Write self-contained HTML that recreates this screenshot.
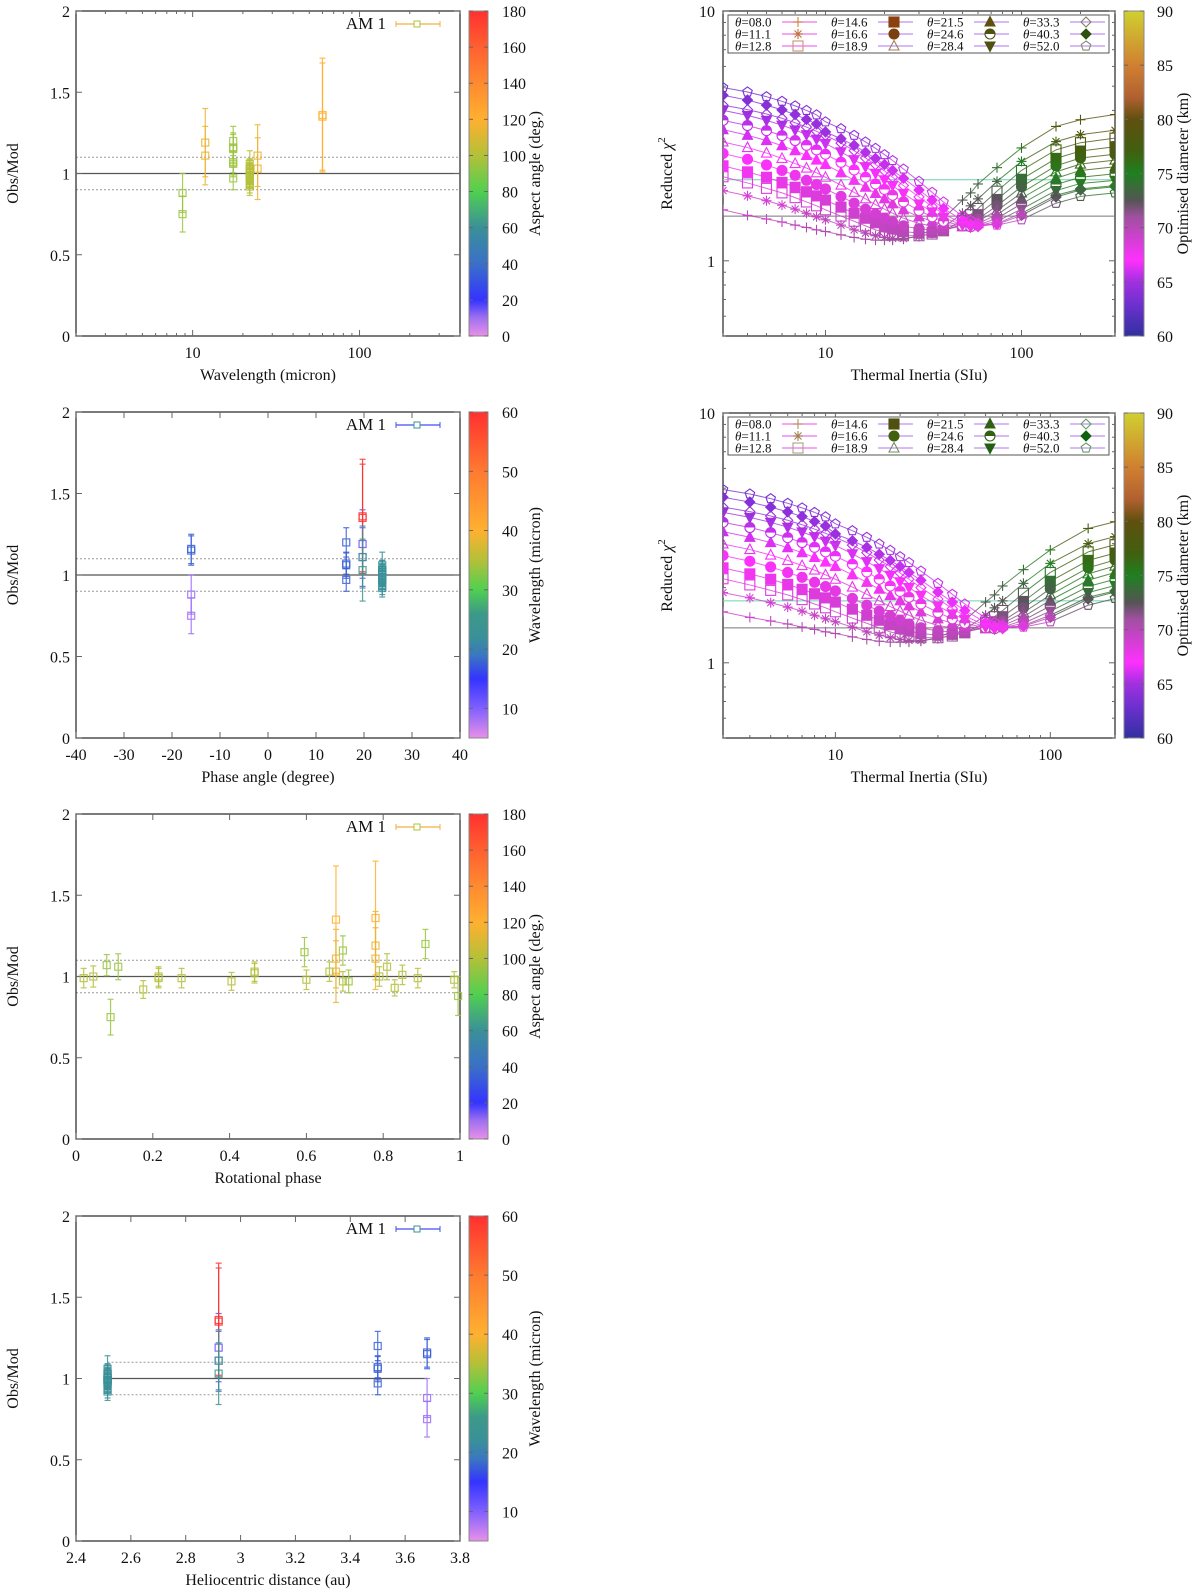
<!DOCTYPE html>
<html><head><meta charset="utf-8">
<style>body{margin:0;background:#fff}svg{display:block;font-family:"Liberation Serif",serif}</style>
</head><body>
<svg id="fig" width="1200" height="1596" viewBox="0 0 1200 1596" xmlns="http://www.w3.org/2000/svg"><rect width="1200" height="1596" fill="#fff"/></svg>
<script>
// ---------- observation data (left panels) ----------
const obsWl    =[8.7,8.7,11.9,11.9,17.5,17.5,17.5,17.5,17.5,17.5,60,60,24.5,24.5, 22,22,22,22,22,22,22,22,22,22,22,22,22,22,22,22,22,22];
const obsAlpha =[-16,-16,19.7,19.7,-16,-16,16.3,16.3,16.3,16.3,19.7,19.7,19.7,19.7, 23.8,23.8,23.8,23.8,23.8,23.8,23.8,23.8,23.8,23.8,23.8,23.8,23.8,23.8,23.8,23.8,23.8,23.8];
const obsRh    =[3.68,3.68,2.92,2.92,3.68,3.68,3.5,3.5,3.5,3.5,2.92,2.92,2.92,2.92, 2.515,2.515,2.515,2.515,2.515,2.515,2.515,2.515,2.515,2.515,2.515,2.515,2.515,2.515,2.515,2.515,2.515,2.515];
const obsRot   =[0.995,0.09,0.78,0.677,0.695,0.595,0.91,0.08,0.11,0.71,0.78,0.677,0.677,0.78, 0.02,0.045,0.175,0.215,0.215,0.275,0.405,0.465,0.465,0.6,0.66,0.695,0.79,0.81,0.83,0.85,0.89,0.985];
const obsRatio =[0.88,0.75,1.19,1.11,1.16,1.15,1.20,1.07,1.06,0.97,1.36,1.35,1.03,1.11, 0.99,1.0,0.92,1.0,0.99,0.99,0.97,1.03,1.02,0.98,1.03,0.97,1.0,1.06,0.93,1.01,0.99,0.98];
const obsErr   =[0.12,0.11,0.21,0.18,0.09,0.09,0.09,0.065,0.08,0.07,0.35,0.33,0.19,0.19, 0.06,0.065,0.055,0.06,0.06,0.06,0.055,0.06,0.06,0.06,0.06,0.06,0.06,0.08,0.05,0.06,0.06,0.05];
const obsAsp   =[95,95,115,115,95,95,95,95,95,95,120,120,115,115, 100,100,100,100,100,100,100,100,100,100,100,100,100,100,100,100,100,100];
const ratioTicks=[0,0.5,1,1.5,2];

// ---------- chi2 data (right panels) ----------
const tiGrid=[3,4,5,6,7,8,9,10,12,14,16,18,20,22,25,30,35,40,50,55,60,75,100,150,200,300];
const thetaLabels=['08.0','11.1','12.8','14.6','16.6','18.9','21.5','24.6','28.4','33.3','40.3','52.0'];
const chiT08=[1.60,1.52,1.47,1.43,1.39,1.36,1.33,1.31,1.27,1.24,1.22,1.21,1.21,1.21,1.22,1.26,1.34,1.48,1.75,1.87,2.03,2.36,2.83,3.45,3.67,3.85];
const chiT11=[1.91,1.82,1.74,1.67,1.61,1.55,1.50,1.46,1.39,1.33,1.29,1.26,1.24,1.23,1.23,1.25,1.29,1.36,1.55,1.66,1.77,2.08,2.50,3.00,3.20,3.33];
const chiT13=[2.17,2.05,1.95,1.87,1.79,1.72,1.66,1.60,1.51,1.44,1.38,1.33,1.30,1.28,1.26,1.26,1.28,1.32,1.45,1.53,1.62,1.90,2.30,2.78,2.97,3.10];
const chiT15=[2.40,2.27,2.16,2.06,1.97,1.89,1.82,1.75,1.64,1.55,1.48,1.42,1.37,1.34,1.31,1.29,1.30,1.32,1.40,1.46,1.53,1.76,2.12,2.57,2.75,2.86];
const chiT17=[2.69,2.55,2.42,2.30,2.20,2.10,2.02,1.94,1.81,1.70,1.61,1.54,1.48,1.43,1.38,1.34,1.33,1.33,1.38,1.42,1.47,1.66,1.98,2.40,2.58,2.67];
const chiT19=[2.99,2.84,2.70,2.57,2.45,2.35,2.25,2.16,2.01,1.88,1.77,1.68,1.61,1.55,1.48,1.41,1.38,1.36,1.37,1.40,1.44,1.59,1.87,2.27,2.44,2.53];
const chiT22=[3.35,3.18,3.03,2.89,2.76,2.64,2.53,2.43,2.25,2.10,1.97,1.86,1.77,1.69,1.60,1.50,1.44,1.40,1.37,1.38,1.41,1.53,1.78,2.14,2.30,2.38];
const chiT25=[3.65,3.48,3.32,3.17,3.03,2.90,2.78,2.67,2.48,2.31,2.16,2.03,1.93,1.83,1.72,1.59,1.50,1.44,1.38,1.37,1.39,1.48,1.69,2.02,2.16,2.23];
const chiT28=[4.00,3.82,3.65,3.49,3.34,3.20,3.07,2.95,2.73,2.54,2.38,2.24,2.11,2.00,1.86,1.69,1.57,1.49,1.39,1.37,1.38,1.44,1.61,1.91,2.04,2.10];
const chiT33=[4.20,4.03,3.87,3.72,3.57,3.43,3.30,3.18,2.96,2.76,2.58,2.43,2.29,2.16,2.00,1.80,1.65,1.54,1.41,1.38,1.37,1.41,1.55,1.83,1.94,2.00];
const chiT40=[4.60,4.40,4.20,4.02,3.85,3.68,3.53,3.28,3.08,2.90,2.72,2.57,2.43,2.30,2.14,1.92,1.75,1.62,1.45,1.40,1.38,1.40,1.52,1.80,1.92,1.98];
const chiT52=[4.94,4.74,4.54,4.35,4.17,4.00,3.84,3.60,3.38,3.18,2.99,2.82,2.66,2.52,2.33,2.08,1.88,1.72,1.51,1.45,1.41,1.39,1.46,1.70,1.81,1.87];
const diamBase=[66,66.2,66.4,66.6,66.8,67,67.1,67.2,67.4,67.6,67.8,68,68.2,68.4,68.6,68.8,69,69.2,69.6,70,70.3,71,72.5,75,76,77];
const diamOffset=[3,2.4,1.9,1.4,0.9,0.4,-0.1,-0.6,-1.2,-1.8,-2.4,-3];
const refLines1=[1.51,2.11];
const refLines2=[1.38,1.77];

const chiSeries=[chiT08,chiT11,chiT13,chiT15,chiT17,chiT19,chiT22,chiT25,chiT28,chiT33,chiT40,chiT52];
const markerTypes=['plus','star','sqO','sqF','circF','triO','triF','circH','triDF','diaO','diaF','pentO'];

const NS='http://www.w3.org/2000/svg';
const svg=document.getElementById('fig');
function mk(tag,attrs,parent){const e=document.createElementNS(NS,tag);for(const k in attrs)e.setAttribute(k,attrs[k]);(parent||svg).appendChild(e);return e;}
function hex2rgb(h){return [parseInt(h.substr(1,2),16),parseInt(h.substr(3,2),16),parseInt(h.substr(5,2),16)];}
function pal(stops,v){if(v<=stops[0][0])return stops[0][1];for(let i=1;i<stops.length;i++){if(v<=stops[i][0]){const a=hex2rgb(stops[i-1][1]),b=hex2rgb(stops[i][1]);const t=(v-stops[i-1][0])/(stops[i][0]-stops[i-1][0]);return 'rgb('+a.map((c,j)=>Math.round(c+(b[j]-c)*t)).join(',')+')';}}return stops[stops.length-1][1];}
const aspStops=[[0,'#e890e8'],[10,'#a070f0'],[20,'#3434ff'],[40,'#3a70c8'],[60,'#3a9098'],[80,'#50d050'],[100,'#b4c038'],[120,'#ffb030'],[140,'#ff8a30'],[160,'#ff6030'],[180,'#ff3030']];
const wlStops=[[5,'#e890e8'],[10,'#8060ff'],[15,'#3434ff'],[19,'#3a78c0'],[22,'#3a9098'],[26,'#3c9a88'],[30,'#50d050'],[35,'#b4c038'],[40,'#ffb030'],[50,'#ff7a30'],[60,'#ff3030']];
const diamStops=[[60,'#3030a0'],[63,'#7030d0'],[65,'#a030e0'],[67,'#ff30ff'],[69,'#d040d0'],[71,'#a050a0'],[72.5,'#555555'],[75,'#208020'],[77,'#406010'],[80,'#605010'],[82,'#b06030'],[85,'#d08030'],[88,'#d0b030'],[90,'#d0d030']];

function txt(x,y,s,size,anchor,parent){const t=mk('text',{x:x,y:y,'font-size':size,'text-anchor':anchor||'start',fill:'#111'},parent);t.textContent=s;return t;}

function colorbar(g,x0,x1,top,bottom,min,max,ticks,stops,title,labelX,titleX){
  const id='grad'+Math.round(top)+x0;
  const defs=mk('defs',{},g);
  const lg=mk('linearGradient',{id:id,x1:0,y1:1,x2:0,y2:0},defs);
  stops.forEach(s=>{mk('stop',{offset:((s[0]-min)/(max-min)),'stop-color':s[1]},lg);});
  const r=mk('rect',{x:x0,y:top,width:x1-x0,height:bottom-top,fill:'url(#'+id+')',stroke:'#888','stroke-width':1},g);
  
  
  ticks.forEach(v=>{const y=bottom-(v-min)/(max-min)*(bottom-top);
    mk('line',{x1:x0,x2:x0+4,y1:y,y2:y,stroke:'#666'},g);mk('line',{x1:x1-4,x2:x1,y1:y,y2:y,stroke:'#666'},g);
    const t=txt(labelX,y+6,String(v),16,'start',g);
    
    
  });
  const cy=(top+bottom)/2;
  const tt=mk('text',{x:titleX,y:cy,'font-size':16,'text-anchor':'middle',transform:'rotate(-90 '+titleX+' '+cy+')',fill:'#111'},g);
  tt.textContent=title;
  
  
}

// ---------- left panels ----------
const leftPanels=[
 {name:'wavelength-panel',top:11,bottom:336,xmin:2,xmax:400,log:true,xs:obsWl,cs:obsAsp,stops:aspStops,cmin:0,cmax:180,cticks:[0,20,40,60,80,100,120,140,160,180],ctitle:'Aspect angle (deg.)',xlabel:'Wavelength (micron)',xticks:[10,100],lineCol:'#f0b040',sqCol:'#b4c038',solid:null},
 {name:'phase-angle-panel',top:412,bottom:738,xmin:-40,xmax:40,log:false,xs:obsAlpha,cs:obsWl,stops:wlStops,cmin:5,cmax:60,cticks:[10,20,30,40,50,60],ctitle:'Wavelength (micron)',xlabel:'Phase angle (degree)',xticks:[-40,-30,-20,-10,0,10,20,30,40],lineCol:'#4050f0',sqCol:'#3a9098',solid:null},
 {name:'rotational-phase-panel',top:814,bottom:1139,xmin:0,xmax:1,log:false,xs:obsRot,cs:obsAsp,stops:aspStops,cmin:0,cmax:180,cticks:[0,20,40,60,80,100,120,140,160,180],ctitle:'Aspect angle (deg.)',xlabel:'Rotational phase',xticks:[0,0.2,0.4,0.6,0.8,1],lineCol:'#f0b040',sqCol:'#b4c038',solid:null},
 {name:'heliocentric-panel',top:1216,bottom:1541,xmin:2.4,xmax:3.8,log:false,xs:obsRh,cs:obsWl,stops:wlStops,cmin:5,cmax:60,cticks:[10,20,30,40,50,60],ctitle:'Wavelength (micron)',xlabel:'Heliocentric distance (au)',xticks:[2.4,2.6,2.8,3,3.2,3.4,3.6,3.8],lineCol:'#4050f0',sqCol:'#3a9098',solid:[2.515,3.68]}
];
leftPanels.forEach(P=>{
  const L=76,R=460,T=P.top,B=P.bottom;
  const g=mk('g',{});
  
  
  const X=v=>P.log?L+(Math.log10(v)-Math.log10(P.xmin))/(Math.log10(P.xmax)-Math.log10(P.xmin))*(R-L):L+(v-P.xmin)/(P.xmax-P.xmin)*(R-L);
  const Y=v=>B-v/2*(B-T);
  const x0=P.solid?X(P.solid[0]):L, x1=P.solid?X(P.solid[1]):R;
  [0.9,1.1].forEach(v=>{const l=mk('line',{x1:x0,x2:R,y1:Y(v),y2:Y(v),stroke:'#999','stroke-dasharray':'2,2','stroke-width':1},g);
    
    });
  const sl=mk('line',{x1:x0,x2:x1,y1:Y(1),y2:Y(1),stroke:'#555','stroke-width':1.3},g);
  
  
  const fr=mk('rect',{x:L,y:T,width:R-L,height:B-T,fill:'none',stroke:'#333','stroke-width':1.3},g);
  
  
  ratioTicks.forEach(v=>{const y=Y(v);mk('line',{x1:L,x2:L+6,y1:y,y2:y,stroke:'#666'},g);mk('line',{x1:R-6,x2:R,y1:y,y2:y,stroke:'#666'},g);
    const t=txt(L-6,y+6,String(v),16,'end',g);
    
    });
  P.xticks.forEach(v=>{const x=X(v);mk('line',{x1:x,x2:x,y1:B,y2:B-6,stroke:'#666'},g);mk('line',{x1:x,x2:x,y1:T,y2:T+6,stroke:'#666'},g);
    const t=txt(x,B+22,String(v),16,'middle',g);
    
    });
  if(P.log){[2,3,4,5,6,7,8,9,20,30,40,50,60,70,80,90,200,300,400].forEach(v=>{const x=X(v);mk('line',{x1:x,x2:x,y1:B,y2:B-3,stroke:'#666'},g);mk('line',{x1:x,x2:x,y1:T,y2:T+3,stroke:'#666'},g);});}
  const xt=txt((L+R)/2,B+44,P.xlabel,16,'middle',g);
  
  
  const cy=(T+B)/2;
  const yt=mk('text',{x:18,y:cy,'font-size':16,'text-anchor':'middle',transform:'rotate(-90 18 '+cy+')',fill:'#111'},g);
  yt.textContent='Obs/Mod';
  
  
  for(let i=0;i<obsRatio.length;i++){
    const c=pal(P.stops,P.cs[i]);const x=X(P.xs[i]),y=Y(obsRatio[i]),ya=Y(obsRatio[i]-obsErr[i]),yb=Y(obsRatio[i]+obsErr[i]);
    const eg=mk('g',{stroke:c,fill:'none','stroke-width':1.2,opacity:0.85},g);
    
    
    mk('line',{x1:x,x2:x,y1:ya,y2:yb},eg);
    mk('line',{x1:x-3,x2:x+3,y1:ya,y2:ya},eg);
    mk('line',{x1:x-3,x2:x+3,y1:yb,y2:yb},eg);
    mk('rect',{x:x-3.5,y:y-3.5,width:7,height:7},eg);
  }
  const lgG=mk('g',{},g);
  
  
  txt(386,T+18,'AM 1',17,'end',lgG);
  const ly=T+13;
  mk('line',{x1:396,x2:440,y1:ly,y2:ly,stroke:P.lineCol,'stroke-width':1.3},lgG);
  mk('line',{x1:396,x2:396,y1:ly-3,y2:ly+3,stroke:P.lineCol},lgG);
  mk('line',{x1:440,x2:440,y1:ly-3,y2:ly+3,stroke:P.lineCol},lgG);
  mk('rect',{x:414,y:ly-3,width:6,height:6,fill:'#fff',stroke:P.sqCol},lgG);
  colorbar(g,469,488,T,B,P.cmin,P.cmax,P.cticks,P.stops,P.ctitle,502,540);
});

// ---------- markers ----------
function marker(g,type,x,y,c,r){
  const o={stroke:c,'stroke-width':1.1};
  if(type==='plus'){mk('line',Object.assign({x1:x-r,x2:x+r,y1:y,y2:y},o),g);mk('line',Object.assign({x1:x,x2:x,y1:y-r,y2:y+r},o),g);}
  else if(type==='star'){mk('line',Object.assign({x1:x-r,x2:x+r,y1:y,y2:y},o),g);mk('line',Object.assign({x1:x-r*0.7,x2:x+r*0.7,y1:y-r*0.7,y2:y+r*0.7},o),g);mk('line',Object.assign({x1:x-r*0.7,x2:x+r*0.7,y1:y+r*0.7,y2:y-r*0.7},o),g);mk('line',Object.assign({x1:x,x2:x,y1:y-r,y2:y+r},o),g);}
  else if(type==='sqO'||type==='sqF'){mk('rect',Object.assign({x:x-r,y:y-r,width:2*r,height:2*r,fill:type==='sqF'?c:'none'},o),g);}
  else if(type==='circF'){mk('circle',Object.assign({cx:x,cy:y,r:r,fill:c},o),g);}
  else if(type==='circH'){mk('circle',Object.assign({cx:x,cy:y,r:r,fill:'#fff'},o),g);mk('path',{d:'M'+(x-r)+' '+y+' A'+r+' '+r+' 0 0 1 '+(x+r)+' '+y+' Z',fill:c},g);}
  else if(type==='triO'||type==='triF'){mk('polygon',Object.assign({points:[x,y-r*1.1,x+r,y+r*0.8,x-r,y+r*0.8].join(','),fill:type==='triF'?c:'none'},o),g);}
  else if(type==='triDF'){mk('polygon',Object.assign({points:[x,y+r*1.1,x+r,y-r*0.8,x-r,y-r*0.8].join(','),fill:c},o),g);}
  else if(type==='diaO'||type==='diaF'){mk('polygon',Object.assign({points:[x,y-r,x+r,y,x,y+r,x-r,y].join(','),fill:type==='diaF'?c:'none'},o),g);}
  else if(type==='pentO'){const p=[];for(let k=0;k<5;k++){const a=-Math.PI/2+k*2*Math.PI/5;p.push(x+r*Math.cos(a),y+r*Math.sin(a));}mk('polygon',Object.assign({points:p.join(','),fill:'none'},o),g);}
}

// ---------- right panels ----------
const rightPanels=[
 {name:'chi2-panel-1',top:11,bottom:336,xmin:3,xmax:300,ref:refLines1,legTop:15,legCols:['#d08040','#c07040','#d09070','#8b4010','#7b4010','#a08060','#605010','#505010','#505010','#808060','#305010','#809070']},
 {name:'chi2-panel-2',top:413,bottom:738,xmin:3,xmax:200,ref:refLines2,legTop:417,legCols:['#b09060','#a08050','#b0a080','#505010','#406010','#70905a','#306010','#306010','#206010','#60a060','#106010','#60a060']}
];
rightPanels.forEach(P=>{
  const L=723,R=1115,T=P.top,B=P.bottom;
  const g=mk('g',{});
  
  
  const X=v=>L+(Math.log10(v)-Math.log10(P.xmin))/(Math.log10(P.xmax)-Math.log10(P.xmin))*(R-L);
  const Y=v=>B-(Math.log10(v)-Math.log10(0.5))/(1-Math.log10(0.5))*(B-T);
  const cl=mk('clipPath',{id:'clip'+T},g);mk('rect',{x:L,y:T,width:R-L,height:B-T},cl);
  const fr=mk('rect',{x:L,y:T,width:R-L,height:B-T,fill:'none',stroke:'#333','stroke-width':1.3},g);
  
  
  [0.5,0.6,0.7,0.8,0.9,1,2,3,4,5,6,7,8,9,10].forEach(v=>{const y=Y(v);const len=(v===1||v===10)?6:3;
    mk('line',{x1:L,x2:L+len,y1:y,y2:y,stroke:'#666'},g);mk('line',{x1:R-len,x2:R,y1:y,y2:y,stroke:'#666'},g);
    if(v===1||v===10){const t=txt(L-8,y+6,String(v),16,'end',g);
      
      }});
  [3,4,5,6,7,8,9,10,20,30,40,50,60,70,80,90,100,200,300].filter(v=>v>=P.xmin&&v<=P.xmax).forEach(v=>{const x=X(v);const len=(v===10||v===100)?6:3;
    mk('line',{x1:x,x2:x,y1:B,y2:B-len,stroke:'#666'},g);mk('line',{x1:x,x2:x,y1:T,y2:T+len,stroke:'#666'},g);
    if(v===10||v===100){const t=txt(x,B+22,String(v),16,'middle',g);
      
      }});
  const xt=txt((L+R)/2,B+44,'Thermal Inertia (SIu)',16,'middle',g);
  
  
  const cy=(T+B)/2;
  const yt=mk('text',{x:672,y:cy,'font-size':16,'text-anchor':'middle',transform:'rotate(-90 672 '+cy+')',fill:'#111'},g);
  yt.textContent='Reduced ';
  const ch=mk('tspan',{'font-style':'italic'},yt);ch.textContent='χ';
  const sup=mk('tspan',{dy:-7,'font-size':11},yt);sup.textContent='2';
  
  
  P.ref.forEach((v,k)=>{const l=mk('line',{x1:L,x2:R,y1:Y(v),y2:Y(v),stroke:k===0?'#777':'#70d0b0','stroke-width':1},g);
    
    });
  const dg=mk('g',{'clip-path':'url(#clip'+T+')'},g);
  chiSeries.forEach((ser,s)=>{
    const sg=mk('g',{},dg);
    
    
    const idx=tiGrid.map((t,i)=>i).filter(i=>tiGrid[i]<=P.xmax);
    for(let j=1;j<idx.length;j++){const a=idx[j-1],b=idx[j];
      mk('line',{x1:X(tiGrid[a]),y1:Y(ser[a]),x2:X(tiGrid[b]),y2:Y(ser[b]),stroke:pal(diamStops,diamBase[b]+diamOffset[s]),'stroke-width':1,opacity:0.8},sg);}
    idx.forEach(i=>marker(sg,markerTypes[s],X(tiGrid[i]),Y(ser[i]),pal(diamStops,diamBase[i]+diamOffset[s]),5));
  });
  const lg=mk('g',{},g);
  
  
  mk('rect',{x:728,y:P.legTop,width:381,height:38,fill:'#fff',stroke:'#555','stroke-width':1},lg);
  thetaLabels.forEach((lab,s)=>{
    const col=Math.floor(s/3),row=s%3;const x=735+col*96,y=P.legTop+7+row*12;
    const t=mk('text',{x:x,y:y+4.5,'font-size':13,fill:'#111'},lg);
    const th=mk('tspan',{'font-style':'italic'},t);th.textContent='θ';
    const rest=mk('tspan',{},t);rest.textContent='='+lab;
    
    
    mk('line',{x1:x+47,x2:x+82,y1:y,y2:y,stroke:col===0?'#f070f0':'#c090f0','stroke-width':1.3},lg);
    marker(lg,markerTypes[s],x+63,y,P.legCols[s],5);
  });
  colorbar(g,1124,1144,T,B,60,90,[60,65,70,75,80,85,90],diamStops,'Optimised diameter (km)',1157,1188);
});
</script>
</body></html>
